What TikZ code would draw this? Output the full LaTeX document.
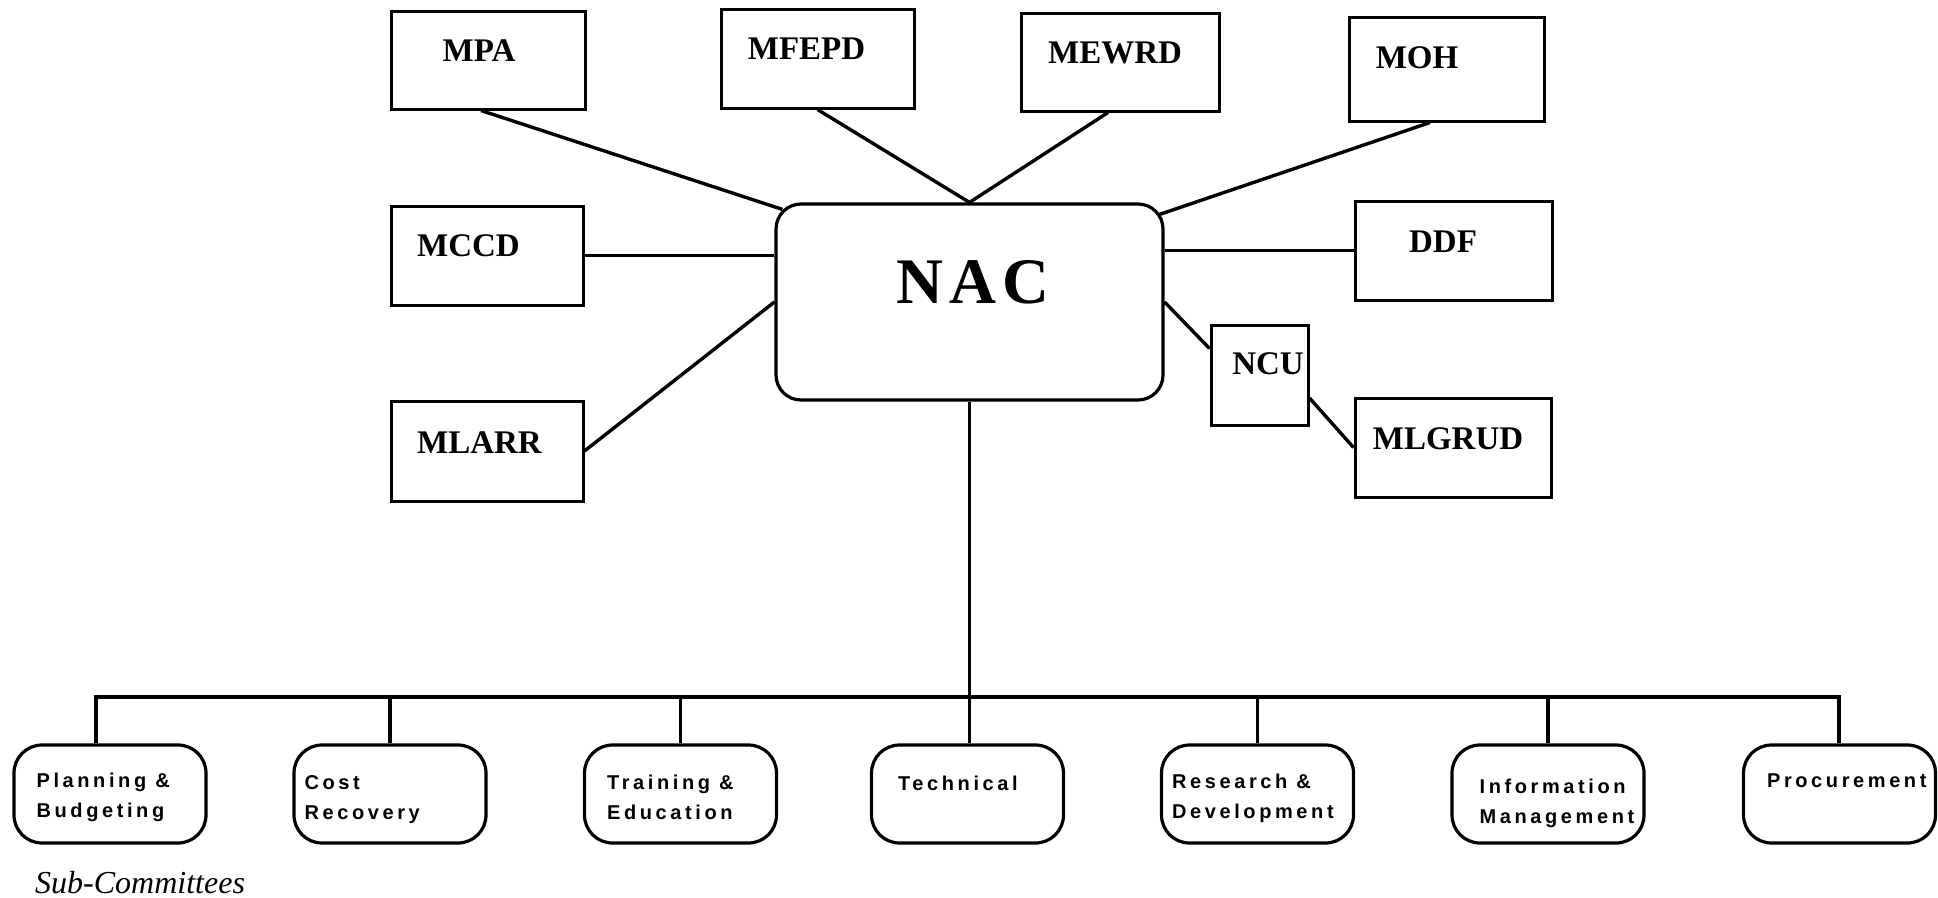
\documentclass[tikz,border=0pt]{standalone}
\usepackage{fontspec}
\setmainfont{Liberation Serif}
\newfontfamily\subfont[LetterSpace=18]{Liberation Sans}
\newfontfamily\nacfont[LetterSpace=10]{Liberation Serif}
\usetikzlibrary{calc}
\tikzset{
  obox/.style={draw, line width=3pt, inner sep=0pt},
  rbox/.style={draw, line width=3.2pt, rounded corners=28pt, inner sep=0pt,
    minimum width=192pt, minimum height=98pt},
  lbl/.style={font=\bfseries\fontsize{33}{36}\selectfont, inner sep=0pt},
  sublbl/.style={font=\subfont\bfseries\fontsize{20}{30}\selectfont, align=left,
    anchor=north west, inner sep=0pt},
  conn/.style={line width=3.4pt},
}
\begin{document}
\begin{tikzpicture}[x=1pt,y=-1pt]
\useasboundingbox (0,0) rectangle (1938,897);
% top boxes
\node[obox, minimum width=194pt, minimum height=98pt] (mpa) at (488,60) {};
\node[obox, minimum width=193pt, minimum height=99pt] (mfepd) at (817.5,58.5) {};
\node[obox, minimum width=198pt, minimum height=98pt] (mewrd) at (1120,62) {};
\node[obox, minimum width=195pt, minimum height=104pt] (moh) at (1447,69) {};
\node[obox, minimum width=192pt, minimum height=99pt] (mccd) at (487,255.5) {};
\node[obox, minimum width=197pt, minimum height=99pt] (ddf) at (1453.5,250.5) {};
\node[obox, minimum width=97pt, minimum height=100pt] (ncu) at (1259.5,375) {};
\node[obox, minimum width=192pt, minimum height=100pt] (mlarr) at (487,451) {};
\node[obox, minimum width=196pt, minimum height=99pt] (mlgrud) at (1453,447.5) {};
\node[draw, line width=3.2pt, rounded corners=25pt, inner sep=0pt,
  minimum width=387pt, minimum height=196pt] (nac) at (969.5,302) {};
% labels
\node[lbl] (mpaT) at (479,51) {MPA};
\node[lbl] (mfepdT) at (806.5,49) {MFEPD};
\node[lbl] (mewrdT) at (1115,52.5) {MEWRD};
\node[lbl] (mohT) at (1417,58) {MOH};
\node[lbl] (mccdT) at (468.5,246) {MCCD};
\node[lbl] (mlarrT) at (479.5,442.5) {MLARR};
\node[lbl] (ddfT) at (1443,241.5) {DDF};
\node[lbl] (ncuT) at (1268,364) {NCU};
\node[lbl] (mlgrudT) at (1448,439) {MLGRUD};
\node[font=\nacfont\bfseries\fontsize{65}{70}\selectfont, inner sep=0pt] (nacT) at (973,282) {NAC};
% connectors to NAC
\draw[conn] ($(mpa.south)+(-7,0)$) -- ($(nac.north west)+(8,7)$);
\draw[conn] (mfepd.south) -- (nac.north);
\draw[conn] ($(mewrd.south)+(-12,0)$) -- (nac.north);
\draw[conn] ($(moh.south)+(-17,0)$) -- ($(nac.north east)+(-5,12)$);
\draw[conn] (mccd.east) -- (mccd.east -| nac.west);
\draw[conn] (ddf.west) -- (ddf.west -| nac.east);
\draw[conn] (mlarr.east) -- (nac.west);
\draw[conn] (nac.east) -- ($(ncu.north west)+(0,25)$);
\draw[conn] ($(ncu.east)+(0,23)$) -- (mlgrud.west);
% sub-committees
\node[rbox] (plan) at (110,794) {};
\node[rbox] (cost) at (390,794) {};
\node[rbox] (train) at (680.5,794) {};
\node[rbox] (tech) at (967.5,794) {};
\node[rbox] (rd) at (1257.5,794) {};
\node[rbox] (info) at (1548,794) {};
\node[rbox] (proc) at (1839.5,794) {};
\node[sublbl] (planT) at ($(plan.north west)+(24,29)$) {Planning \&\\Budgeting};
\node[sublbl] (costT) at ($(cost.north west)+(12,32)$) {Cost\\Recovery};
\node[sublbl] (trainT) at ($(train.north west)+(24,31)$) {Training \&\\Education};
\node[sublbl] (techT) at ($(tech.north west)+(28,32)$) {Technical};
\node[sublbl] (rdT) at ($(rd.north west)+(12,30)$) {Research \&\\Development};
\node[sublbl] (infoT) at ($(info.north west)+(29,35)$) {Information\\Management};
\node[sublbl] (procT) at ($(proc.north west)+(25,30)$) {Procurement};
% bus
\coordinate (busL) at (96,697);
\coordinate (busR) at (1839,697);
\draw[conn] (busL |- plan.north) -- (busL) -- (busR) -- (busR |- proc.north);
\draw[conn] (nac.south) -- (nac.south |- tech.north);
\draw[conn] (cost.north) -- (cost.north |- busL);
\draw[conn] (train.north) -- (train.north |- busL);
\draw[conn] (rd.north) -- (rd.north |- busL);
\draw[conn] (info.north) -- (info.north |- busL);
\node[anchor=base west, inner sep=0pt, font=\itshape\fontsize{32}{36}\selectfont] (subc) at (35,893) {Sub-Committees};
\end{tikzpicture}
\end{document}
